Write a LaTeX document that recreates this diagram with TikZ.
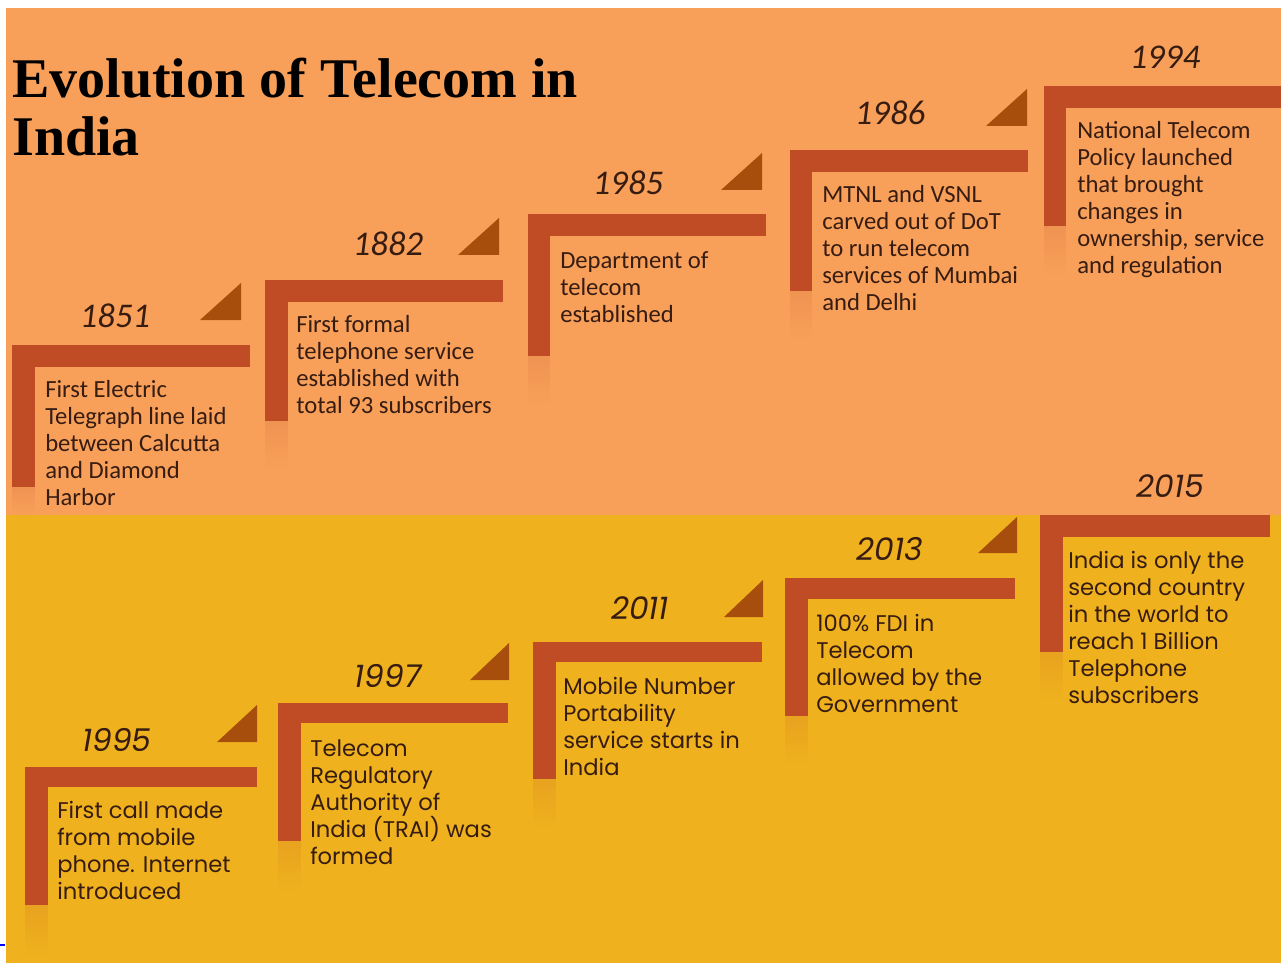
\documentclass[tikz,border=0pt]{standalone}
\usepackage{fontspec}
\setmainfont{Carlito}
\newfontfamily\gothic{Poppins}
\newfontfamily\headfont{Liberation Serif}
\usepackage{tikz}
\usetikzlibrary{positioning, calc, fadings}

\definecolor{orangebg}{RGB}{248,160,90}
\definecolor{yellowbg}{RGB}{239,178,30}
\definecolor{barred}{RGB}{192,76,38}
\definecolor{tribrown}{RGB}{168,78,12}
\definecolor{inkbrown}{RGB}{55,28,18}

\begin{document}
\begin{tikzpicture}
  [x=0.75pt, y=-0.75pt,
    bar/.style ={fill=barred, draw=none},
    tri/.style ={fill=tribrown, draw=none},
    glow/.style ={fill=barred, opacity=0.15, path fading=south},
    year/.style ={font=\fontsize{26}{30}\selectfont\itshape, text=inkbrown, inner sep=0pt},
    note/.style ={font=\fontsize{18.5}{20.3}\selectfont, text=inkbrown, align=left, anchor=north west, inner sep=0pt},
    yearb/.style ={year, font=\gothic\fontsize{23.5}{27}\selectfont\itshape},
    noteb/.style ={note, font=\gothic\fontsize{17}{20.3}\selectfont},
  ]
  \useasboundingbox (0,0) rectangle (1281,966);
  \fill[white] (0,0) rectangle (1281,966);
  \fill[orangebg] (6,8) rectangle (1281,515);
  \fill[yellowbg] (6,515) rectangle (1281,963);
  \draw[blue, thick] (0,945) -- (5,945);

  % title
  \node[anchor=north west, inner sep=0pt, align=left, text=black,
        font=\headfont\bfseries\fontsize{42}{43}\selectfont] (title) at (12,58)
        {Evolution of Telecom in\\India};

  % upper row
  \fill[bar] (12,345) rectangle (250,367);
  \fill[bar] (12,345) rectangle (35,487);
  \fill[glow] (12,487) rectangle (35,515);
  \fill[tri] (200,320) -- (241,320) -- (241,283) -- cycle;
  \node[year] (y1851) at (115,316) {1851};
  \node[note] (t1851) at (45,380) {First Electric\\Telegraph line laid\\between Calcutta\\and Diamond\\Harbor};

  \fill[bar] (265,280) rectangle (503,302);
  \fill[bar] (265,280) rectangle (288,421);
  \fill[glow] (265,421) rectangle (288,470);
  \fill[tri] (458,255) -- (499,255) -- (499,218) -- cycle;
  \node[year] (y1882) at (388,244) {1882};
  \node[note] (t1882) at (296,315) {First formal\\telephone service\\established with\\total 93 subscribers};

  \fill[bar] (528,214) rectangle (766,236);
  \fill[bar] (528,214) rectangle (550,356);
  \fill[glow] (528,356) rectangle (550,405);
  \fill[tri] (721,190) -- (762,190) -- (762,153) -- cycle;
  \node[year] (y1985) at (628,183) {1985};
  \node[note] (t1985) at (560,251) {Department of\\telecom\\established};

  \fill[bar] (790,150) rectangle (1028,172);
  \fill[bar] (790,150) rectangle (812,291);
  \fill[glow] (790,291) rectangle (812,340);
  \fill[tri] (986,126) -- (1027,126) -- (1027,89) -- cycle;
  \node[year] (y1986) at (890,113) {1986};
  \node[note] (t1986) at (822,185) {MTNL and VSNL\\carved out of DoT\\to run telecom\\services of Mumbai\\and Delhi};

  \fill[bar] (1044,86) rectangle (1281,108);
  \fill[bar] (1044,86) rectangle (1066,226);
  \fill[glow] (1044,226) rectangle (1066,275);
  \node[year] (y1994) at (1165,57) {1994};
  \node[note] (t1994) at (1077,121) {National Telecom\\Policy launched\\that brought\\changes in\\ownership, service\\and regulation};

  % lower row
  \fill[bar] (25,767) rectangle (257,787);
  \fill[bar] (25,767) rectangle (48,905);
  \fill[glow] (25,905) rectangle (48,955);
  \fill[tri] (217,742) -- (257,742) -- (257,705) -- cycle;
  \node[yearb] (y1995) at (117,740) {1995};
  \node[noteb] (t1995) at (57,801) {First call made\\from mobile\\phone. Internet\\introduced};

  \fill[bar] (278,703) rectangle (508,723);
  \fill[bar] (278,703) rectangle (301,841);
  \fill[glow] (278,841) rectangle (301,890);
  \fill[tri] (470,680) -- (509,680) -- (509,643) -- cycle;
  \node[yearb] (y1997) at (388,676) {1997};
  \node[noteb] (t1997) at (310,739) {Telecom\\Regulatory\\Authority of\\India (TRAI) was\\formed};

  \fill[bar] (533,642) rectangle (762,662);
  \fill[bar] (533,642) rectangle (556,779);
  \fill[glow] (533,779) rectangle (556,828);
  \fill[tri] (724,617) -- (763,617) -- (763,580) -- cycle;
  \node[yearb] (y2011) at (640,608) {2011};
  \node[noteb] (t2011) at (563,677) {Mobile Number\\Portability\\service starts in\\India};

  \fill[bar] (785,578) rectangle (1015,599);
  \fill[bar] (785,578) rectangle (808,716);
  \fill[glow] (785,716) rectangle (808,765);
  \fill[tri] (978,553) -- (1017,553) -- (1017,517) -- cycle;
  \node[yearb] (y2013) at (890,549) {2013};
  \node[noteb] (t2013) at (816,614) {100\% FDI in\\Telecom\\allowed by the\\Government};

  \fill[bar] (1040,515) rectangle (1270,537);
  \fill[bar] (1040,515) rectangle (1063,652);
  \fill[glow] (1040,652) rectangle (1063,700);
  \node[yearb] (y2015) at (1170,486) {2015};
  \node[noteb] (t2015) at (1068,551) {India is only the\\second country\\in the world to\\reach 1 Billion\\Telephone\\subscribers};
\end{tikzpicture}
\end{document}
